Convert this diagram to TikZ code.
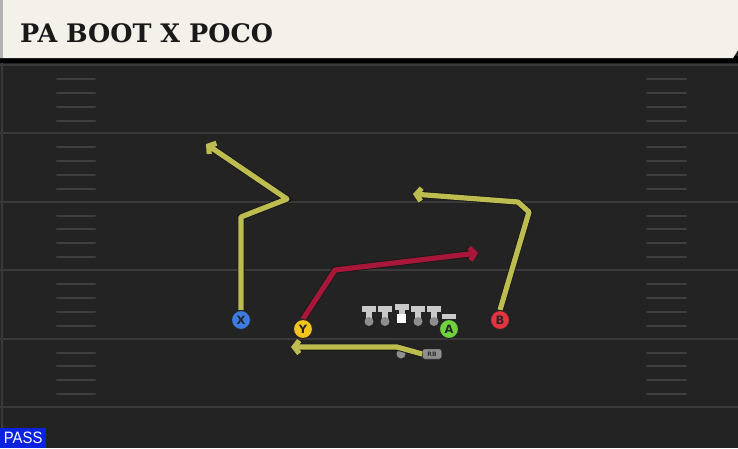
\documentclass[tikz,border=0pt]{standalone}
\usepackage{fontspec}
\newfontfamily\titlefont{DejaVu Serif}
\newfontfamily\uifont{Liberation Sans}[FakeStretch=0.9]
\newfontfamily\markfont{DejaVu Sans}
\usetikzlibrary{arrows.meta,positioning}

\definecolor{fieldbg}{HTML}{232323}
\definecolor{bannerbg}{HTML}{F4F1EA}
\definecolor{linegray}{HTML}{3A3A3A}
\definecolor{hashgray}{HTML}{3F3F3F}
\definecolor{routeyellow}{HTML}{BDBC4F}
\definecolor{routered}{HTML}{A8173A}
\definecolor{xblue}{HTML}{3D7BE0}
\definecolor{yyellow}{HTML}{F6C421}
\definecolor{agreen}{HTML}{6FD23C}
\definecolor{bred}{HTML}{E5333F}
\definecolor{passblue}{HTML}{0B22E0}
\definecolor{olgray}{HTML}{C9C9C9}
\definecolor{dotgray}{HTML}{8E8E8E}

\begin{document}
\begin{tikzpicture}[x=1pt, y=-1pt,
        yardline/.style={draw=linegray, line width=2pt},
        hashmark/.style={draw=hashgray, line width=2pt, line cap=round},
        route/.style={draw=routeyellow, line width=5.2pt, line join=round,
            -{Straight Barb[length=5pt, width=13pt]},
            preaction={draw=black!90, line width=7pt}},
        hotroute/.style={route, draw=routered},
        player/.style={circle, draw=black!85, line width=1pt, minimum size=19pt, inner sep=0pt,
            font=\markfont\bfseries\fontsize{11.5}{11.5}\selectfont, text=black!85},
        rbtag/.style={draw=black!85, fill=dotgray, rounded corners=2pt, minimum width=19pt, minimum height=10pt,
            inner sep=0pt, font=\markfont\bfseries\fontsize{6}{6}\selectfont, text=black!80},
        lineman/.style={fill=olgray},
    ]
        \useasboundingbox (0,0) rectangle (738,448);

        % field
        \fill[fieldbg] (0,0) rectangle (738,448);
        \draw[draw=linegray, line width=1.5pt] (2,60) -- (2,428);
        \foreach \k in {0,...,5} {
            \draw[yardline] (0,65+68.4*\k) -- (738,65+68.4*\k);
        }
        \foreach \k in {0,...,4} {
            \foreach \d in {14,27.5,41.5,55.5} {
                \draw[hashmark] (57,65+68.4*\k+\d) -- (95,65+68.4*\k+\d);
                \draw[hashmark] (647,65+68.4*\k+\d) -- (686,65+68.4*\k+\d);
            }
        }

        % title banner
        \fill[black] (0,56) rectangle (738,63);
        \fill[bannerbg] (0,0) -- (738,0) -- (738,50) -- (733,58) -- (0,58) -- cycle;
        \fill[gray!60] (0,0) rectangle (3,58);
        \node[anchor=base west, inner sep=0pt, font=\titlefont\bfseries\fontsize{25.5}{25.5}\selectfont, text=black!90]
            (title) at (20,42) {PA BOOT X POCO};

        % play type
        \node[fill=passblue, anchor=south west, minimum width=46pt, minimum height=20pt, inner sep=0pt,
            font=\uifont\fontsize{16.5}{16.5}\selectfont, text=white] (playtype) at (0,448) {PASS};

        % offensive line
        \foreach \x in {369,385,418,434} {
            \fill[lineman] (\x-7,306) rectangle (\x+7,311.5);
            \fill[lineman] (\x-3,311) rectangle (\x+3,321);
            \fill[dotgray] (\x,321.5) circle (4.5);
        }
        \fill[lineman] (394.5,304) rectangle (408.5,309.5);
        \fill[lineman] (398.5,309) rectangle (404.5,314);
        \fill[white] (397,313.5) rectangle (406,322.5);
        \fill[lineman] (442,313.5) rectangle (456,318.5);

        % backfield
        \fill[dotgray] (401,354) circle (4.5);
        \node[rbtag] (rb) at (432,354) {RB};

        % receivers
        \node[player, fill=xblue] (X) at (241,320) {X};
        \node[player, fill=yyellow] (Y) at (303,329) {Y};
        \node[player, fill=agreen] (A) at (449,329) {A};
        \node[player, fill=bred] (B) at (500,320) {B};

        % route points
        \coordinate (x1) at (241,217);
        \coordinate (x2) at (251,213);
        \coordinate (x3) at (287,199);
        \coordinate (xend) at (206,144);
        \coordinate (b1) at (529,212);
        \coordinate (b2) at (518,202);
        \coordinate (bend) at (413,194);
        \coordinate (y1) at (335,270);
        \coordinate (yend) at (478,253);
        \coordinate (r1) at (397,347);
        \coordinate (rend) at (291,347);

        % routes
        \draw[route] (X.north) -- (x1) -- (x2) -- (x3) -- (xend);
        \draw[route] (B.north) -- (b1) -- (b2) -- (bend);
        \draw[hotroute] (Y.north) -- (y1) -- (yend);
        \draw[route] (rb.west) -- (r1) -- (rend);
        \node[player, fill=xblue] at (X) {X};
        \node[player, fill=yyellow] at (Y) {Y};
        \node[player, fill=bred] at (B) {B};
        \node[rbtag] at (rb) {RB};
    \end{tikzpicture}
\end{document}
